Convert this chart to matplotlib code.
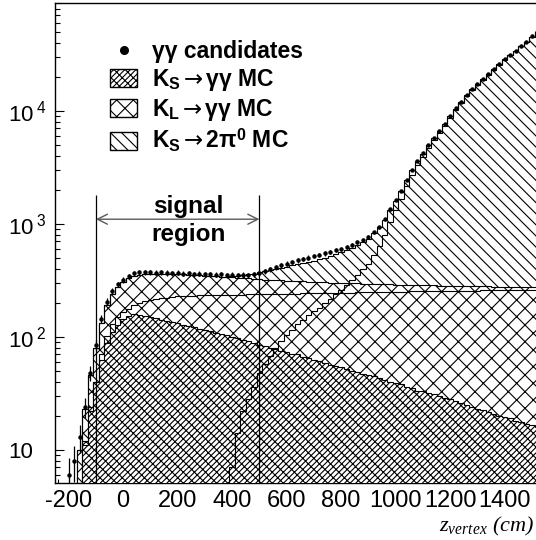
import numpy as np
import matplotlib
matplotlib.use("Agg")
import matplotlib.pyplot as plt
from matplotlib.patches import Patch
from matplotlib.lines import Line2D
from matplotlib.ticker import FixedLocator, MultipleLocator, LogLocator, NullFormatter

plt.rcParams["font.family"] = ["Liberation Sans", "DejaVu Sans"]
plt.rcParams["mathtext.fontset"] = "custom"
plt.rcParams["mathtext.rm"] = "Liberation Sans"
plt.rcParams["mathtext.bf"] = "Liberation Sans:bold"
plt.rcParams["mathtext.sf"] = "DejaVu Sans"
plt.rcParams["mathtext.it"] = "Liberation Serif:italic"
plt.rcParams["axes.unicode_minus"] = False
plt.rcParams["hatch.linewidth"] = 0.8

# hatch styles (ROOT-like)
HATCH_KS_GG = "//////\\\\\\"
HATCH_KL_GG = "xx"
HATCH_KS_2PI0 = "\\\\\\"

# 20 cm bins from -250 cm
bin_edges = np.arange(-250, 1531, 20)
bin_centers = 0.5 * (bin_edges[:-1] + bin_edges[1:])

# K_S -> gamma gamma MC
ks_gg = [
    0, 0, 0, 1.5, 5, 12, 24, 40, 62, 88,
    110, 128, 143, 153, 158, 157, 154, 150, 146, 142,
    139, 135, 133, 128, 125, 122, 118, 115, 112, 109,
    107, 103, 100, 97, 94, 92, 88, 85, 83, 80,
    78, 75, 73, 71, 70, 67, 65, 62, 61, 59,
    57, 55, 54, 52, 50, 49, 47, 46, 45, 43,
    42, 40, 39, 38, 36, 35, 33.5, 33, 32, 31,
    30, 29, 28, 27, 26, 25, 24, 23, 22.5, 21.5,
    21, 20, 19.5, 19, 18, 17.5, 17, 16.5, 16,
]

# K_L -> gamma gamma MC
kl_gg = [
    0, 0, 0, 1, 5, 11, 22, 40, 70, 102,
    130, 150, 165, 178, 190, 199, 206, 211, 215, 219,
    223, 226, 228, 230, 231, 232, 233, 234, 234, 235,
    235, 236, 236, 237, 237, 238, 238, 239, 239, 240,
    240, 241, 241, 242, 242, 243, 243, 244, 244, 245,
    245, 246, 246, 247, 247, 248, 248, 249, 249, 250,
    250, 251, 251, 252, 252, 253, 253, 254, 254, 255,
    255, 255, 256, 256, 256, 257, 257, 257, 258, 258,
    258, 259, 259, 259, 260, 260, 260, 261, 261,
]

# K_S -> 2 pi0 MC
ks_2pi0 = [
    0, 0, 0, 0, 0, 0, 0, 0, 0, 0,
    0, 0, 0, 0, 0, 0, 0, 0, 0, 0,
    0, 0, 0, 0, 0, 0, 0, 0, 0, 0,
    0, 0, 7, 14, 22, 28, 36, 48, 58, 68,
    80, 92, 104, 116, 130, 142, 155, 168, 182, 198,
    215, 238, 262, 290, 320, 355, 395, 445, 530, 640,
    800, 1030, 1320, 1650, 2150, 2700, 3300, 3900, 4700, 5500,
    6400, 7300, 8700, 10200, 11700, 13500, 15200, 16900, 18700, 20700,
    23200, 25700, 28200, 31000, 33700, 37200, 40700, 45200, 49200,
]

# gamma gamma candidates (data)
candidates = [
    0, 0, 6, 8, 13, 24, 48, 85, 145, 205,
    255, 292, 320, 345, 365, 372, 375, 372, 370, 374,
    368, 366, 370, 362, 365, 360, 363, 358, 360, 355,
    358, 352, 355, 350, 354, 352, 358, 368, 382, 398,
    415, 430, 445, 462, 476, 490, 503, 518, 532, 548,
    565, 585, 605, 628, 655, 688, 725, 770, 840, 935,
    1100, 1350, 1620, 1950, 2450, 3000, 3600, 4200, 5000, 5800,
    6700, 7600, 9000, 10500, 12000, 13800, 15500, 17200, 19000, 21000,
    23500, 26000, 28500, 31300, 34000, 37500, 41000, 45500, 49500,
]

ks_gg = np.array(ks_gg, dtype=float)
kl_gg = np.array(kl_gg, dtype=float)
ks_2pi0 = np.array(ks_2pi0, dtype=float)
candidates = np.array(candidates, dtype=float)

mc_gg = ks_gg + kl_gg
mc_total = mc_gg + ks_2pi0

floor = 0.1


def clip(v):
    return np.clip(v, floor, None)


fig = plt.figure(figsize=(5.36, 5.40), dpi=100)
ax = fig.add_axes([55 / 536, 57 / 540, 481 / 536, 480 / 540])
ax.set_yscale("log")

# stacked MC, each drawn over a white background like ROOT
ax.stairs(clip(mc_total), bin_edges, baseline=floor, fill=True,
          facecolor="white", edgecolor="black", hatch=HATCH_KS_2PI0,
          linewidth=0, zorder=1)
ax.stairs(clip(mc_gg), bin_edges, baseline=floor, fill=True,
          facecolor="white", edgecolor="black", hatch=HATCH_KL_GG,
          linewidth=0, zorder=2)
ax.stairs(clip(ks_gg), bin_edges, baseline=floor, fill=True,
          facecolor="white", edgecolor="black", hatch=HATCH_KS_GG,
          linewidth=0, zorder=3)

for series in (mc_total, mc_gg, ks_gg, kl_gg, ks_2pi0):
    ax.stairs(clip(series), bin_edges, baseline=None, color="black",
              linewidth=0.8, zorder=4)

has_data = candidates > 0
ax.errorbar(bin_centers[has_data], candidates[has_data],
            yerr=np.sqrt(candidates[has_data]), fmt="o", ms=2.2,
            color="black", elinewidth=0.9, capsize=0, zorder=6)

# signal region
ax.vlines([-100, 500], 5.1, 1800, color="black", linewidth=0.9, zorder=5)
ax.annotate("", xy=(-100, 1100), xytext=(500, 1100),
            arrowprops=dict(arrowstyle="<->", color="0.35", lw=1.0,
                            mutation_scale=18, shrinkA=0, shrinkB=0),
            zorder=5)
ax.text(240, 1414, "signal", ha="center", va="center",
        fontsize=17.5, fontweight="bold", zorder=7)
ax.text(240, 800, "region", ha="center", va="center",
        fontsize=17.5, fontweight="bold", zorder=7)

ax.set_xlim(-250, 1515)
ax.set_ylim(5.1, 9.0e4)

ax.xaxis.set_major_locator(MultipleLocator(200))
ax.xaxis.set_minor_locator(MultipleLocator(40))
ax.yaxis.set_major_locator(FixedLocator([10, 100, 1000, 10000]))
ax.set_yticklabels(["10", r"$\mathregular{10^{\;2}}$",
                    r"$\mathregular{10^{\;3}}$", r"$\mathregular{10^{\;4}}$"])
ax.yaxis.set_minor_locator(LogLocator(base=10, subs=np.arange(2, 10)))
ax.yaxis.set_minor_formatter(NullFormatter())

ax.tick_params(axis="both", which="both", direction="in", top=False,
               right=False, width=0.8)
ax.tick_params(axis="x", which="major", length=5.8, pad=5, labelsize=17)
ax.tick_params(axis="x", which="minor", length=2.9)
ax.tick_params(axis="y", which="major", length=6.5, pad=34, labelsize=16)
ax.tick_params(axis="y", which="minor", length=3.6)
for label in ax.get_yticklabels():
    label.set_horizontalalignment("left")

ax.spines["right"].set_visible(False)
for side in ("left", "bottom", "top"):
    ax.spines[side].set_linewidth(1.0)

fig.text(534 / 536, 1 - 531 / 540, r"$z_{vertex}$ (cm)", ha="right",
         va="baseline", fontsize=16, family="Liberation Serif", style="italic")

handles = [
    Line2D([], [], marker="o", ls="none", color="black", markersize=5.5),
    Patch(facecolor="white", edgecolor="black", hatch=HATCH_KS_GG, linewidth=1),
    Patch(facecolor="white", edgecolor="black", hatch=HATCH_KL_GG, linewidth=1),
    Patch(facecolor="white", edgecolor="black", hatch=HATCH_KS_2PI0, linewidth=1),
]
labels = [
    "γγ candidates",
    r"K$_\mathbf{S}\mathsf{\rightarrow}$γγ MC",
    r"K$_\mathbf{L}\mathsf{\rightarrow}$γγ MC",
    r"K$_\mathbf{S}\mathsf{\rightarrow}$2π$^\mathbf{0}$ MC",
]
ax.legend(handles, labels, loc="upper left",
          bbox_to_anchor=(110 / 536, 1 - 40 / 540), bbox_transform=fig.transFigure,
          frameon=False, prop={"weight": "bold", "size": 16.5},
          handlelength=1.18, handleheight=0.83, handletextpad=0.65,
          labelspacing=0.18, borderpad=0, borderaxespad=0)

fig.savefig("out.png", dpi=100)
